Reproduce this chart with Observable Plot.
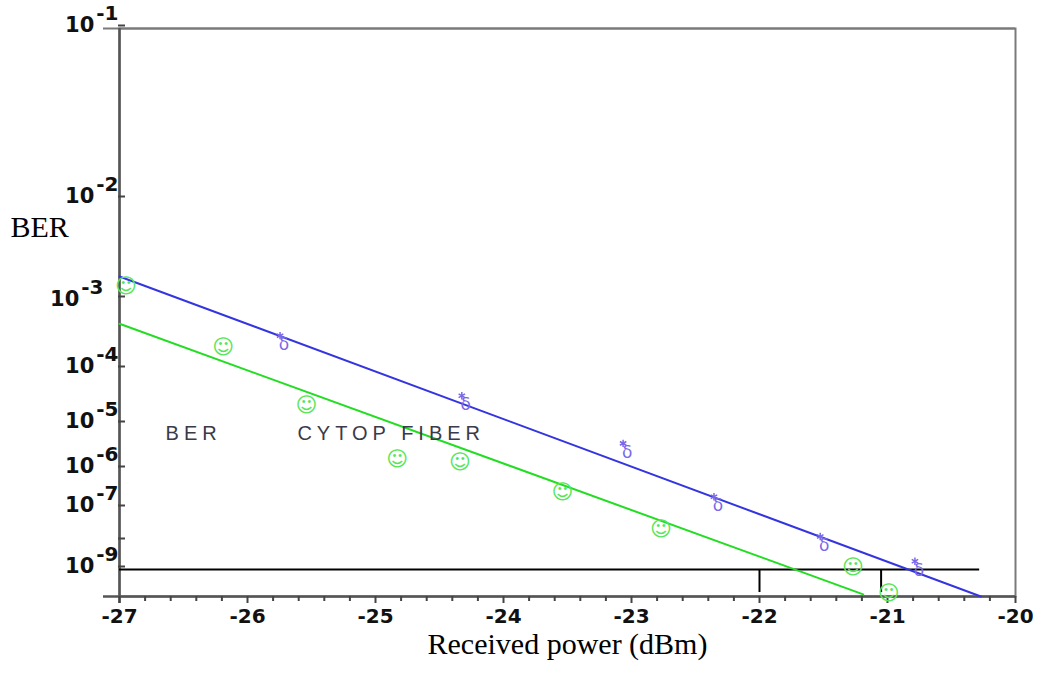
<!DOCTYPE html>
<html><head><meta charset="utf-8">
<script src="https://cdn.jsdelivr.net/npm/d3@7"></script>
<script src="https://cdn.jsdelivr.net/npm/@observablehq/plot@0.6"></script>
<style>
html,body{margin:0;padding:0;background:#fff;}
</style></head><body><div id="chart"></div>
<script>
// ---- data ----
const greenX   = [-26.95, -26.19, -25.54, -24.83, -24.34, -23.54, -22.77, -21.27, -20.99];
const greenBER = [1.35e-3, 2.1e-4, 2.2e-5, 1.66e-6, 1.43e-6, 2.6e-7, 2.3e-8, 1.2e-9, 1.3e-10];
const blueX    = [-25.73, -24.31, -23.05, -22.34, -21.51, -20.77];
const blueBER  = [2.5e-4, 2.6e-5, 2.8e-6, 1.4e-7, 9.2e-9, 1.2e-9];
const blueFitX   = [-27, -20.27];
const blueFitBER = [1.7e-3, 1e-10];
const greenFitX   = [-27, -21.19];
const greenFitBER = [4.5e-4, 1.2e-10];
const thresholdBER = 1e-9;
const thresholdEndX = -20.28;
const markerX = [-22, -21.05];
const markerLowBER = 1.4e-10;
const xMajorTicks = [-27, -26, -25, -24, -23, -22, -21, -20];
const yTickValues = [1e-1, 1e-2, 1e-3, 1e-4, 1e-5, 1e-6, 1e-7, 1e-8, 1e-9];
const yLabelledExp = [-1, -2, -3, -4, -5, -6, -7, -9];
const yDomainValues = [1e-1, 1e-2, 1e-3, 1e-4, 1e-5, 1e-6, 1e-7, 1e-8, 1e-9, 1e-10];
const annotText = ["BER", "CYTOP FIBER"];
const annotX = [-26.64, -25.61];
const annotBER = [6.3e-6, 6.3e-6];

// ---- tables built from arrays ----
const green = greenX.map((x, i) => ({x, y: greenBER[i]}));
const blue = blueX.map((x, i) => ({x, y: blueBER[i]}));
const blueFit = blueFitX.map((x, i) => ({x, y: blueFitBER[i]}));
const greenFit = greenFitX.map((x, i) => ({x, y: greenFitBER[i]}));
const annots = annotText.map((t, i) => ({t, x: annotX[i], y: annotBER[i]}));
const xMinorTicks = d3.range(-27, -20.001, 0.2).map(v => Math.round(v * 10) / 10).filter(v => !Number.isInteger(v));

const ANNOT_FONT = "Liberation Sans, Arial, sans-serif";

const chart = Plot.plot({
  width: 1039, height: 675,
  marginLeft: 119, marginRight: 24, marginTop: 28, marginBottom: 79,
  style: {background: "#fff", fontFamily: "DejaVu Sans", overflow: "visible"},
  x: {domain: [-27, -20], label: null, axis: null},
  y: {type: "log", domain: yDomainValues, range: [28, 199, 299, 369, 424, 469, 508, 541, 569, 596], label: null, axis: null},
  marks: [
    Plot.frame({stroke: "#7a7a7a", strokeWidth: 2}),
    Plot.ruleY([1e-1], {stroke: "#7a7a7a", strokeWidth: 2, insetLeft: -16}),
    Plot.ruleY([1e-10], {stroke: "#555", strokeWidth: 2.5, insetLeft: -16}),
    Plot.ruleX([-27], {stroke: "#555", strokeWidth: 2.5, insetBottom: -7}),
    Plot.axisX(xMinorTicks, {tickSize: 5, tickFormat: () => "", stroke: "#444", strokeWidth: 2, label: null}),
    Plot.axisX(xMajorTicks, {tickSize: 7, tickPadding: 5, tickFormat: d => String(d), stroke: "#444", strokeWidth: 2,
      fontSize: 20, fontWeight: "bold", fill: "#111", label: null}),
    Plot.axisY(yTickValues, {tickSize: 7, tickPadding: 0, dx: 6, dy: -3, stroke: "#444", strokeWidth: 2,
      tickFormat: d => { const e = Math.round(Math.log10(d)); return yLabelledExp.includes(e) ? "10^" + e : ""; },
      fontSize: 21, fontWeight: "bold", fill: "#111", label: null}),
    Plot.ruleY([thresholdBER], {x1: -27, x2: thresholdEndX, stroke: "black", strokeWidth: 2}),
    Plot.ruleX(markerX, {y1: thresholdBER, y2: markerLowBER, stroke: "black", strokeWidth: 2}),
    Plot.line(blueFit, {x: "x", y: "y", stroke: "#3535e0", strokeWidth: 2}),
    Plot.line(greenFit, {x: "x", y: "y", stroke: "#22dd22", strokeWidth: 2}),
    Plot.text(green, {x: "x", y: "y", text: () => "☺", fill: "#55e655", fontSize: 21, fontFamily: "DejaVu Sans"}),
    Plot.text(blue, {x: "x", y: "y", text: () => "δ", fill: "#7a68e8", fontSize: 17, dx: 2, dy: 3, fontFamily: "DejaVu Sans"}),
    Plot.dot(blue, {x: "x", y: "y", symbol: "asterisk", r: 3.5, dx: -2, dy: -6, stroke: "#7a68e8", strokeWidth: 1.5}),
    Plot.text(annots, {x: "x", y: "y", text: "t", textAnchor: "start", fontSize: 20, fill: "#3a3a48",
      fontFamily: ANNOT_FONT}),
    Plot.text(["BER"], {frameAnchor: "left", textAnchor: "start", dx: -109, dy: -85, fontSize: 30,
      fontFamily: "Liberation Serif", fill: "#000"}),
    Plot.text(["Received power (dBm)"], {frameAnchor: "bottom", dy: 57, fontSize: 30,
      fontFamily: "Liberation Serif", fill: "#000"})
  ]
});

// superscript exponents for y tick labels, letter-spacing for annotations
d3.select(chart).selectAll("text").each(function() {
  const s = this.textContent;
  const m = /^10\^(-?\d+)$/.exec(s);
  if (m) {
    const t = d3.select(this);
    t.text("10");
    t.append("tspan").attr("dx", 2).attr("dy", -12).attr("font-size", 20).text(m[1]);
    if (m[1] === "-3") t.attr("x", -15).attr("y", 9);
    return;
  }
  let g = this.parentNode, fam = null;
  while (g && g !== chart && !fam) { fam = g.getAttribute && g.getAttribute("font-family"); g = g.parentNode; }
  if (fam === ANNOT_FONT) d3.select(this).attr("letter-spacing", "5px");
});

document.getElementById("chart").appendChild(chart);
</script>
</body></html>
